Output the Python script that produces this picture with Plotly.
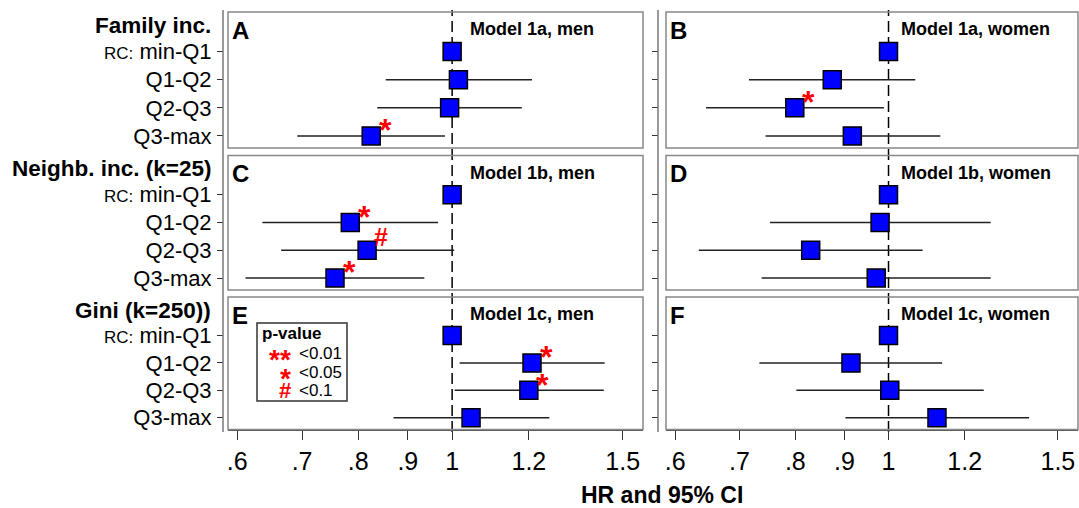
import math
import plotly.graph_objects as go

W, H = 1079, 508

# ---------------- data ----------------
categories = ["<span style='font-size:17px'>RC:</span> min-Q1", "Q1-Q2", "Q2-Q3", "Q3-max"]
cat_pos = [3, 2, 1, 0]
tick_values = [0.6, 0.7, 0.8, 0.9, 1.0, 1.2, 1.5]
tick_labels = [".6", ".7", ".8", ".9", "1", "1.2", "1.5"]
group_labels = ["Family inc.", "Neighb. inc. (k=25)", "Gini (k=250))"]
panel_letters = ["A", "B", "C", "D", "E", "F"]
panel_titles = ["Model 1a, men", "Model 1a, women",
                "Model 1b, men", "Model 1b, women",
                "Model 1c, men", "Model 1c, women"]

hr_A = [1.00, 1.015, 0.994, 0.825]
lo_A = [None, 0.854, 0.837, 0.692]
hi_A = [None, 1.209, 1.180, 0.983]
sig_A = ["", "", "", "*"]

hr_B = [1.00, 0.874, 0.799, 0.917]
lo_B = [None, 0.716, 0.646, 0.745]
hi_B = [None, 1.066, 0.989, 1.132]
sig_B = ["", "", "*", ""]

hr_C = [1.00, 0.785, 0.817, 0.757]
lo_C = [None, 0.637, 0.666, 0.612]
hi_C = [None, 0.967, 1.005, 0.936]
sig_C = ["", "*", "#", "*"]

hr_D = [1.00, 0.980, 0.830, 0.971]
lo_D = [None, 0.753, 0.635, 0.738]
hi_D = [None, 1.277, 1.085, 1.277]
sig_D = ["", "", "", ""]

hr_E = [1.00, 1.209, 1.200, 1.046]
lo_E = [None, 1.018, 1.006, 0.870]
hi_E = [None, 1.437, 1.434, 1.260]
sig_E = ["", "*", "*", ""]

hr_F = [1.00, 0.914, 1.003, 1.123]
lo_F = [None, 0.734, 0.802, 0.902]
hi_F = [None, 1.137, 1.256, 1.400]
sig_F = ["", "", "", ""]

legend_symbols = ["**", "*", "#"]
legend_texts = ["<0.01", "<0.05", "<0.1"]

panels = [(hr_A, lo_A, hi_A, sig_A), (hr_B, lo_B, hi_B, sig_B),
          (hr_C, lo_C, hi_C, sig_C), (hr_D, lo_D, hi_D, sig_D),
          (hr_E, lo_E, hi_E, sig_E), (hr_F, lo_F, hi_F, sig_F)]

# ---------------- layout geometry (pixels) ----------------
FONT = "Liberation Sans, Arial, sans-serif"
col_px = [(228, 643), (666, 1078)]
row_px = [(12, 148), (155.5, 290), (297, 429.5)]
axis_line_px = [223, 658]
x_range = [math.log10(0.587), math.log10(1.574)]
y_range = [-0.43, 4.41]
STAR_SIZE, HASH_SIZE = 32, 25


def px(x):
    return x / W


def py(y):
    return 1 - y / H


fig = go.Figure()
layout = dict(
    width=W, height=H, margin=dict(l=0, r=0, t=0, b=0),
    paper_bgcolor="white", plot_bgcolor="rgba(0,0,0,0)",
    showlegend=False, font=dict(family=FONT, color="black"),
)

# overlay axes for the continuous dashed reference line (x=1) in each column
for c in range(2):
    n = c + 1
    sx = "" if n == 1 else str(n)
    layout["xaxis" + sx] = dict(type="log", range=x_range,
                                domain=[px(col_px[c][0]), px(col_px[c][1])],
                                anchor="y" + sx, visible=False)
    layout["yaxis" + sx] = dict(range=[0, 1], domain=[py(432), py(10)],
                                anchor="x" + sx, visible=False)
    fig.add_trace(go.Scatter(x=[1, 1], y=[0, 1], mode="lines",
                             line=dict(color="black", width=1.5, dash="11px,5px"),
                             xaxis="x" + sx, yaxis="y" + sx, hoverinfo="skip"))

shapes = []
annotations = []

for i, (hr, lo, hi, sig) in enumerate(panels):
    r, c = divmod(i, 2)
    n = i + 3
    xa, ya = "x%d" % n, "y%d" % n
    bottom = (r == 2)
    layout["xaxis%d" % n] = dict(
        type="log", range=x_range, domain=[px(col_px[c][0]), px(col_px[c][1])],
        anchor=ya, showgrid=False, zeroline=False,
        showline=bottom, linecolor="#555", linewidth=1,
        ticks="outside" if bottom else "", ticklen=9, tickcolor="#333",
        tickvals=tick_values, ticktext=tick_labels,
        showticklabels=bottom, tickfont=dict(size=25, family=FONT),
    )
    layout["yaxis%d" % n] = dict(
        range=y_range, domain=[py(row_px[r][1]), py(row_px[r][0])],
        anchor="free", position=px(axis_line_px[c]),
        showgrid=False, zeroline=False, showline=False,
        ticks="outside", ticklen=6, tickcolor="#333",
        tickvals=cat_pos,
        ticktext=categories if c == 0 else ["", "", "", ""],
        showticklabels=(c == 0), tickfont=dict(size=22, family=FONT),
        ticklabelstandoff=1,
    )
    # CI lines
    lx, ly = [], []
    for h_lo, h_hi, p in zip(lo, hi, cat_pos):
        if h_lo is not None:
            lx += [h_lo, h_hi, None]
            ly += [p, p, None]
    fig.add_trace(go.Scatter(x=lx, y=ly, mode="lines", line=dict(color="#222", width=1.5),
                             xaxis=xa, yaxis=ya, hoverinfo="skip"))
    # HR squares
    fig.add_trace(go.Scatter(x=hr, y=cat_pos, mode="markers",
                             marker=dict(symbol="square", size=18, color="#0000FF",
                                         line=dict(color="black", width=1.5)),
                             xaxis=xa, yaxis=ya, cliponaxis=False))
    # significance marks (text placed up-right of each square)
    for h, p, s in zip(hr, cat_pos, sig):
        if s:
            is_star = s.startswith("*")
            fs = STAR_SIZE if is_star else HASH_SIZE
            annotations.append(dict(
                text="<b>%s</b>" % s, xref=xa, yref=ya, x=math.log10(h), y=p,
                xanchor="center", yanchor="middle", showarrow=False,
                xshift=14, yshift=(13 - 0.23 * fs) if is_star else 13,
                font=dict(size=fs, color="red", family=FONT)))
    # frame
    shapes.append(dict(type="rect", xref=xa + " domain", yref=ya + " domain",
                       x0=0, x1=1, y0=0, y1=1, line=dict(color="#888", width=1.5),
                       layer="above"))
    # panel letter and title
    annotations.append(dict(text="<b>%s</b>" % panel_letters[i], xref="paper", yref="paper",
                            x=px(col_px[c][0] + 2), y=py(row_px[r][0] + 18),
                            xanchor="left", yanchor="middle", showarrow=False,
                            font=dict(size=24, family=FONT)))
    title_x = 468 if c == 0 else 899
    annotations.append(dict(text="<b>%s</b>" % panel_titles[i], xref="paper", yref="paper",
                            x=px(title_x), y=py(row_px[r][0] + 17),
                            xanchor="left", yanchor="middle", showarrow=False,
                            font=dict(size=18, family=FONT)))

# group headers
for r, g in enumerate(group_labels):
    annotations.append(dict(text="<b>%s</b>" % g, xref="paper", yref="paper",
                            x=px(213), y=py(row_px[r][0] + 13), xanchor="right",
                            yanchor="middle", showarrow=False,
                            font=dict(size=22.5, family=FONT)))

# continuous y-axis lines for each column
for c in range(2):
    shapes.append(dict(type="line", xref="paper", yref="paper",
                       x0=px(axis_line_px[c]), x1=px(axis_line_px[c]),
                       y0=py(432), y1=py(10), line=dict(color="#777", width=1.5)))

# p-value legend box in panel E
shapes.append(dict(type="rect", xref="paper", yref="paper",
                   x0=px(257), x1=px(347), y0=py(401), y1=py(323),
                   line=dict(color="#333", width=1.5), fillcolor="white", layer="above"))
annotations.append(dict(text="<b>p-value</b>", xref="paper", yref="paper",
                        x=px(260), y=py(333), xanchor="left", yanchor="middle",
                        showarrow=False, font=dict(size=17, family=FONT)))
legend_rows_y = [353, 372, 390]
for s, t, yy in zip(legend_symbols, legend_texts, legend_rows_y):
    is_star = s.startswith("*")
    fs = 28 if is_star else 22
    annotations.append(dict(text="<b>%s</b>" % s, xref="paper", yref="paper",
                            x=px(293), y=py(yy + (0.23 * fs if is_star else 0)),
                            xanchor="right", yanchor="middle",
                            showarrow=False, font=dict(size=fs, color="red", family=FONT)))
    annotations.append(dict(text=t, xref="paper", yref="paper",
                            x=px(297), y=py(yy), xanchor="left", yanchor="middle",
                            showarrow=False, font=dict(size=17, family=FONT)))

# x-axis title
annotations.append(dict(text="<b>HR and 95% CI</b>", xref="paper", yref="paper",
                        x=px(662), y=py(495), xanchor="center", yanchor="middle",
                        showarrow=False, font=dict(size=23, family=FONT)))

layout["shapes"] = shapes
layout["annotations"] = annotations
fig.update_layout(**layout)
fig.write_html("out.html")
